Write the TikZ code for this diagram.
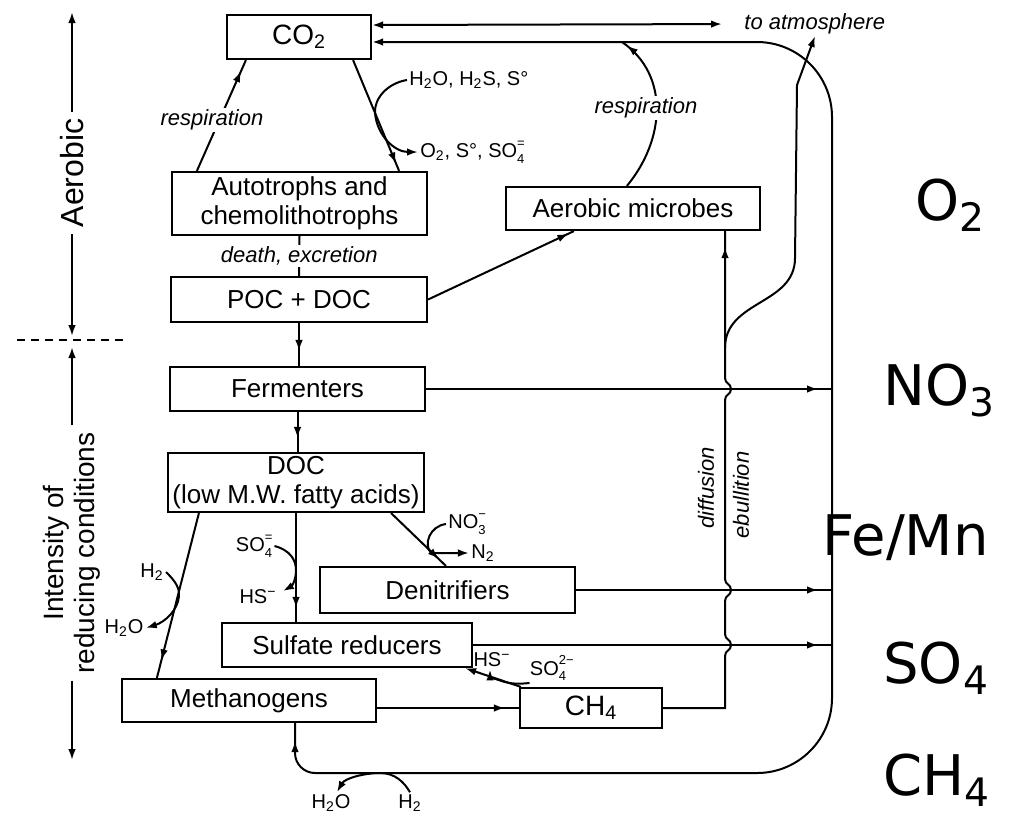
\documentclass[tikz,border=0pt]{standalone}
\usepackage{fontspec}
\setmainfont{Liberation Sans}
\newfontfamily\bigfont{DejaVu Sans}
\usetikzlibrary{calc,arrows.meta,decorations.markings}

\newcommand\chemsup[2]{\rlap{\raisebox{1ex}{\fontsize{6.5}{6.5}\selectfont #2}}%
  \raisebox{-0.5ex}{\fontsize{6.5}{6.5}\selectfont #1}}

\tikzset{
  box/.style={draw, line width=1.1pt, inner sep=0pt, align=center,
    font=\fontsize{13}{14.5}\selectfont},
  flow/.style={line width=1pt},
  tipat/.style={postaction={decorate, decoration={markings,
    mark=at position #1 with {\arrow{>}}}}},
  proc/.style={font=\fontsize{11}{12}\selectfont\itshape, inner sep=1pt},
  chem/.style={font=\fontsize{10}{11}\selectfont, inner sep=1pt},
  axlabel/.style={font=\fontsize{14}{15.5}\selectfont, rotate=90, align=center},
  zone/.style={font=\bigfont\fontsize{28}{30}\selectfont, anchor=base west, inner sep=0pt},
}

\begin{document}
\begin{tikzpicture}[x=0.5pt, y=-0.5pt, >={Latex[length=5.5pt,width=3.8pt]}]
  \fill[white] (0,0) rectangle (1011,816);
  \useasboundingbox (0,0) rectangle (1011,816);

  % boxes
  \node[box, minimum width=72pt, minimum height=22pt, font=\fontsize{14}{15}\selectfont] (co2) at (299,37) {CO\textsubscript{2}};
  \node[box, minimum width=127.5pt, minimum height=31.5pt] (auto) at (299.5,203.5) {Autotrophs and\\chemolithotrophs};
  \node[box, minimum width=128pt, minimum height=22.5pt] (poc) at (299,299.5) {POC + DOC};
  \node[box, minimum width=127.5pt, minimum height=22pt] (ferm) at (297.5,389) {Fermenters};
  \node[box, minimum width=128pt, minimum height=29.5pt] (doc) at (296,482.5) {DOC\\(low M.W. fatty acids)};
  \node[box, minimum width=127pt, minimum height=21.5pt] (aer) at (633,208.5) {Aerobic microbes};
  \node[box, minimum width=127.5pt, minimum height=23pt] (denit) at (447.5,590) {Denitrifiers};
  \node[box, minimum width=125pt, minimum height=22pt] (sulf) at (347,645) {Sulfate reducers};
  \node[box, minimum width=127pt, minimum height=21.5pt] (meth) at (249,700.5) {Methanogens};
  \node[box, minimum width=71pt, minimum height=20pt, font=\fontsize{14}{15}\selectfont] (ch4) at (591,708) {CH\textsubscript{4}};

  \coordinate (rail) at (832,400);
  \coordinate (diff) at (725,400);
  \coordinate (fork) at (725,348);
  \coordinate (atm) at (815,36);
  \coordinate (loopin) at (622,42);

  % CO2 exchange with the atmosphere
  \node[proc, anchor=west] (atmtxt) at (742,24) {to atmosphere};
  \draw[flow, <->, shorten >=10pt] ($(co2.east)+(0,-12)$) -- (atmtxt.west);
  \draw[flow, <-, tipat=-9pt] ($(co2.east)+(0,5)$) -- (757,42)
    .. controls (798.4,42) and (832,75.6) .. (832,117) -- (832,698)
    .. controls (832,739.4) and (798.4,773) .. (757,773) -- (315,773)
    .. controls (304,773) and (295,764) .. (295,753) -- ($(meth.south)+(46,0)$);

  % respiration and autotrophs
  \draw[flow, tipat=-6pt] ($(auto.north west)+(26,0)$) -- ($(co2.south west)+(20,0)$);
  \node[proc, fill=white] (resp1) at (212,120) {respiration};
  \draw[flow, tipat=-4pt] ($(co2.south east)+(-19,0)$) -- ($(auto.north east)+(-29,0)$);
  \node[chem, anchor=west] (redin) at (407,80) {H\textsubscript{2}O, H\textsubscript{2}S, S°};
  \node[chem, anchor=west] (oxout) at (418,152) {O\textsubscript{2}, S°, SO\chemsup{4}{=}};
  \draw[flow, ->] (redin.west) .. controls (388,83) and (374,98) .. (375,113)
    .. controls (377,136) and (395,152) .. (oxout.west);

  \draw[flow] (auto.south) -- node[proc, fill=white] (dthtxt) {death, excretion} (poc.north);
  \draw[flow, tipat=0.65] (poc.south) -- (poc.south |- ferm.north);
  \draw[flow, tipat=0.65] (ferm.south) -- (ferm.south |- doc.north);

  % aerobic microbes
  \draw[flow, tipat=-3pt] (poc.east) -- ($(aer.south west)+(69,0)$);
  \draw[flow, tipat=-3pt] ($(aer.north west)+(122,0)$) .. controls (665,140) and (670,75) .. (loopin);
  \node[proc, fill=white] (resp2) at (646,108) {respiration};

  % DOC to methanogens
  \draw[flow, tipat=-9pt] ($(doc.south west)+(32,0)$) -- ($(meth.north west)+(36,0)$);
  \node[chem] (h2a) at (152,572) {H\textsubscript{2}};
  \node[chem] (h2oa) at (124,628) {H\textsubscript{2}O};
  \draw[flow, ->] (h2a.east) .. controls (172,578) and (180,586) .. (179,596)
    .. controls (178,610) and (165,622) .. (h2oa.east);

  % DOC to sulfate reducers
  \draw[flow, tipat=-7pt] (doc.south) -- (doc.south |- sulf.north);
  \node[chem] (so4a) at (254,546) {SO\chemsup{4}{=}};
  \node[chem] (hsa) at (258,597) {HS\textsuperscript{−}};
  \draw[flow, ->] (so4a.east) .. controls (290,550) and (296,560) .. (296,570)
    .. controls (296,580) and (292,586) .. ($(hsa.east)+(4,-6)$);

  % DOC to denitrifiers
  \draw[flow, tipat=-5pt] ($(doc.south east)+(-34,0)$) -- ($(denit.north west)+(127,0)$);
  \node[chem] (no3) at (467,524) {NO\chemsup{3}{−}};
  \node[chem] (n2) at (483,553) {N\textsubscript{2}};
  \draw[flow, ->] (no3.west) .. controls (430,526) and (423,544) .. (431,553) -- (n2.west);

  % methane
  \draw[flow, tipat=-7pt] (meth.east |- ch4.west) -- (ch4.west);
  \draw[flow, ->] ($(ch4.north west)+(2,0)$) -- ($(sulf.south east)+(-8,0)$);
  \node[chem] (hsb) at (492,660) {HS\textsuperscript{−}};
  \node[chem] (so4b) at (548,668) {SO\chemsup{4}{2−}};
  \draw[flow, ->] ($(so4b.south west)+(2,0)$) .. controls (522,684) and (512,684) .. (505,682)
    .. controls (497,680) and (490,676) .. ($(hsb.south)+(-2,0)$);

  \node[chem] (h2ob) at (331,803) {H\textsubscript{2}O};
  \node[chem] (h2b) at (410,803) {H\textsubscript{2}};
  \draw[flow, ->] (h2b.north) .. controls (404,782) and (395,773) .. (380,773)
    .. controls (365,773) and (345,778) .. ($(h2ob.north)+(6,0)$);

  % fluxes to the rail
  \draw[flow, tipat=-7pt] (ferm.east) -- (ferm.east -| rail);
  \draw[flow, tipat=-7pt] (denit.east) -- (denit.east -| rail);
  \draw[flow, tipat=-7pt] (sulf.east) -- (sulf.east -| rail);

  % diffusion and ebullition
  \draw[flow, tipat=-8pt] (ch4.east) -- (ch4.east -| diff) -- (725,656)
    .. controls (725,650) and (731,651) .. (731,645) .. controls (731,639) and (725,640) .. (725,634)
    -- (725,601) .. controls (725,595) and (731,596) .. (731,590) .. controls (731,584) and (725,585) .. (725,579)
    -- (725,400) .. controls (725,394) and (731,395) .. (731,389) .. controls (731,383) and (725,384) .. (725,378)
    -- (diff |- aer.south);
  \draw[flow, ->] (fork) .. controls (725,300) and (795,305) .. (795,258) -- (797,85) -- (atm);
  \node[proc, rotate=90] (difftxt) at (706,488) {diffusion};
  \node[proc, rotate=90] (ebtxt) at (741,495) {ebullition};

  % redox axis
  \node[axlabel, font=\fontsize{16}{17}\selectfont] (aerob) at (72,173) {Aerobic};
  \node[axlabel] (redc) at (72,553) {Intensity of\\reducing conditions};
  \coordinate (axtop) at (72,12);
  \coordinate (axdn) at (72,336);
  \coordinate (axup) at (72,347);
  \coordinate (axbot) at (72,760);
  \draw[flow, ->] (aerob.east) -- (axtop);
  \draw[flow, ->] (aerob.west) -- (axdn);
  \draw[flow, ->] (redc.east) -- (axup);
  \draw[flow, ->] (redc.west) -- (axbot);
  \draw[line width=0.8pt, dash pattern=on 4pt off 3pt] (17,340) -- (125,340);

  % zones
  \node[zone] (zo2) at (915,220) {O\textsubscript{2}};
  \node[zone] (zno3) at (883,405) {NO\textsubscript{3}};
  \node[zone] (zfe) at (822,555) {Fe/Mn};
  \node[zone] (zso4) at (883,683) {SO\textsubscript{4}};
  \node[zone] (zch4) at (883,795) {CH\textsubscript{4}};
\end{tikzpicture}
\end{document}
